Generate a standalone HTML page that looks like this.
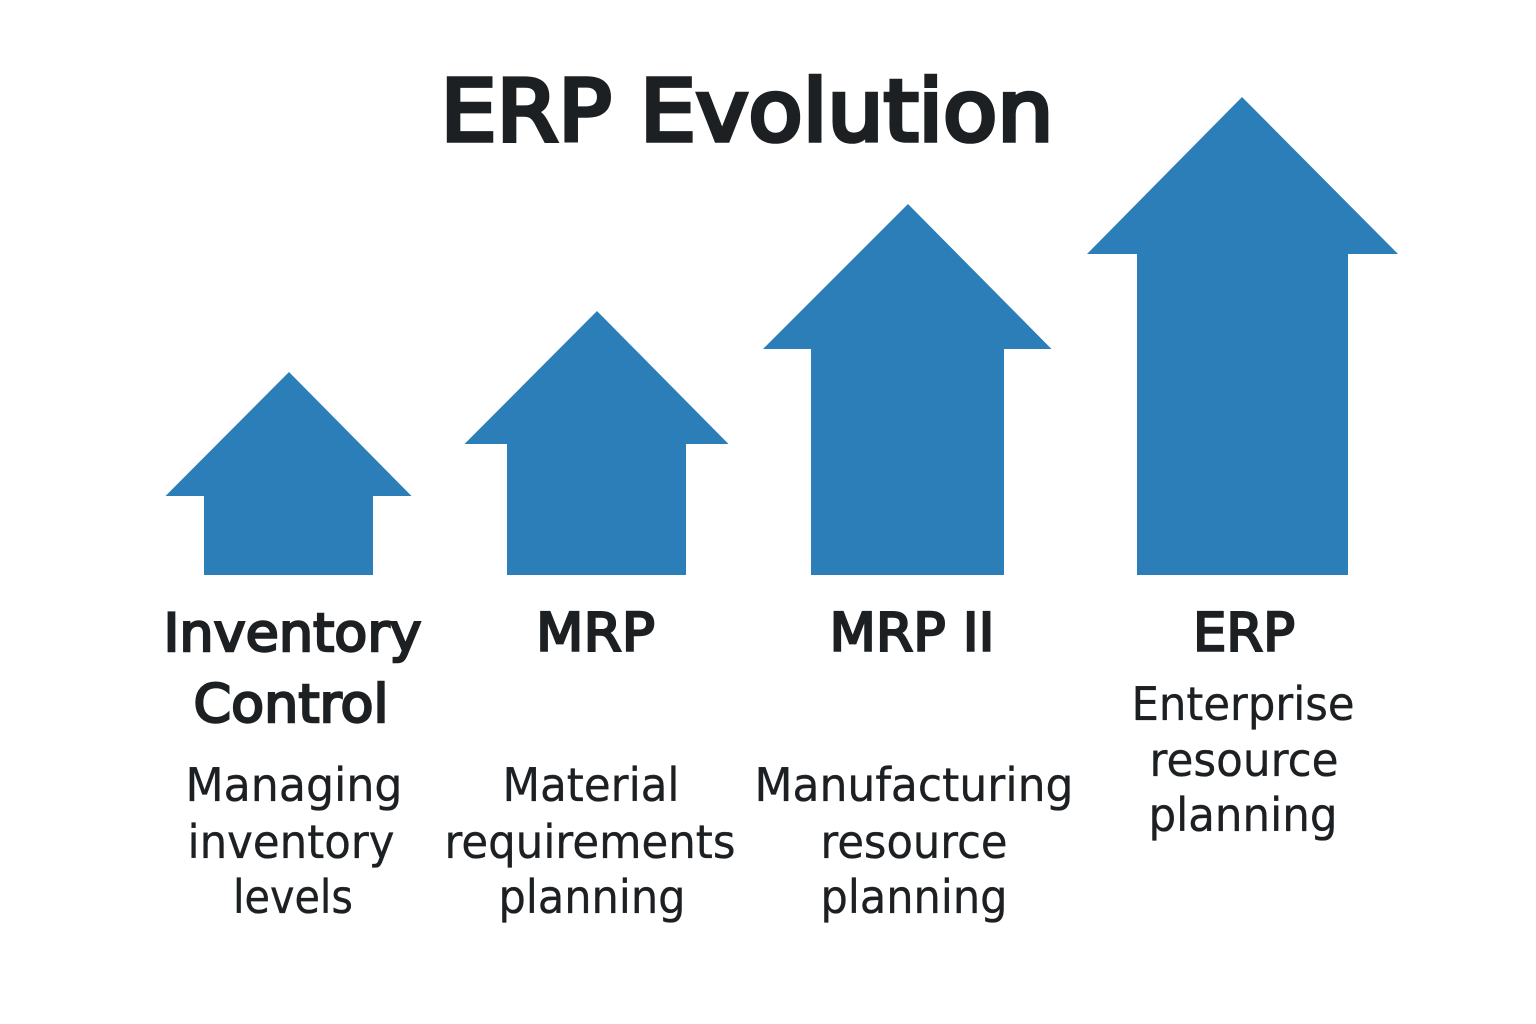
<!DOCTYPE html>
<html>
<head>
<meta charset="utf-8">
<style>
html,body{margin:0;padding:0;background:#fff;}
svg{display:block;}
text{font-family:"DejaVu Sans","Liberation Sans",sans-serif;fill:#1d2023;text-anchor:middle;}
.t{stroke:#1d2023;stroke-width:4.6px;stroke-linejoin:miter;}
.h{stroke:#1d2023;stroke-width:2.4px;stroke-linejoin:miter;}
.d{stroke:#1d2023;stroke-width:0.35px;}
</style>
</head>
<body>
<svg width="1536" height="1024" viewBox="0 0 1536 1024" xmlns="http://www.w3.org/2000/svg">
<rect width="1536" height="1024" fill="#ffffff"/>
<g fill="#2c7eb8">
<polygon points="289,372 411.500,496 373,496 373,575 204,575 204,496 165.500,496"/>
<polygon points="597,311 728.500,444 686,444 686,575 507,575 507,444 464.500,444"/>
<polygon points="908,204 1051.500,349 1004,349 1004,575 811,575 811,349 763,349"/>
<polygon points="1242,97 1398,254 1348,254 1348,575 1137,575 1137,254 1087,254"/>
</g>
<text x="747" y="140.500" font-size="85" class="t" textLength="613" lengthAdjust="spacingAndGlyphs">ERP Evolution</text>

<g font-size="53" class="h">
<text x="292.500" y="651" textLength="258" lengthAdjust="spacingAndGlyphs">Inventory</text>
<text x="291" y="722" textLength="195" lengthAdjust="spacingAndGlyphs">Control</text>
<text x="595.500" y="650.500" textLength="119" lengthAdjust="spacingAndGlyphs">MRP</text>
<text x="912" y="650.500" textLength="165" lengthAdjust="spacingAndGlyphs">MRP II</text>
<text x="1244" y="650.500" textLength="102" lengthAdjust="spacingAndGlyphs">ERP</text>
</g>

<g font-size="46" class="d">
<text x="294" y="801" textLength="217" lengthAdjust="spacingAndGlyphs">Managing</text>
<text x="291" y="858" textLength="207" lengthAdjust="spacingAndGlyphs">inventory</text>
<text x="293" y="913" textLength="120" lengthAdjust="spacingAndGlyphs">levels</text>

<text x="591" y="801" textLength="177" lengthAdjust="spacingAndGlyphs">Material</text>
<text x="590" y="858" textLength="291" lengthAdjust="spacingAndGlyphs">requirements</text>
<text x="592" y="913" textLength="187" lengthAdjust="spacingAndGlyphs">planning</text>

<text x="914" y="801" textLength="319" lengthAdjust="spacingAndGlyphs">Manufacturing</text>
<text x="914" y="858" textLength="187" lengthAdjust="spacingAndGlyphs">resource</text>
<text x="914" y="913" textLength="187" lengthAdjust="spacingAndGlyphs">planning</text>

<text x="1243" y="720" textLength="223" lengthAdjust="spacingAndGlyphs">Enterprise</text>
<text x="1244" y="776" textLength="189" lengthAdjust="spacingAndGlyphs">resource</text>
<text x="1243" y="831" textLength="189" lengthAdjust="spacingAndGlyphs">planning</text>
</g>
</svg>
</body>
</html>
